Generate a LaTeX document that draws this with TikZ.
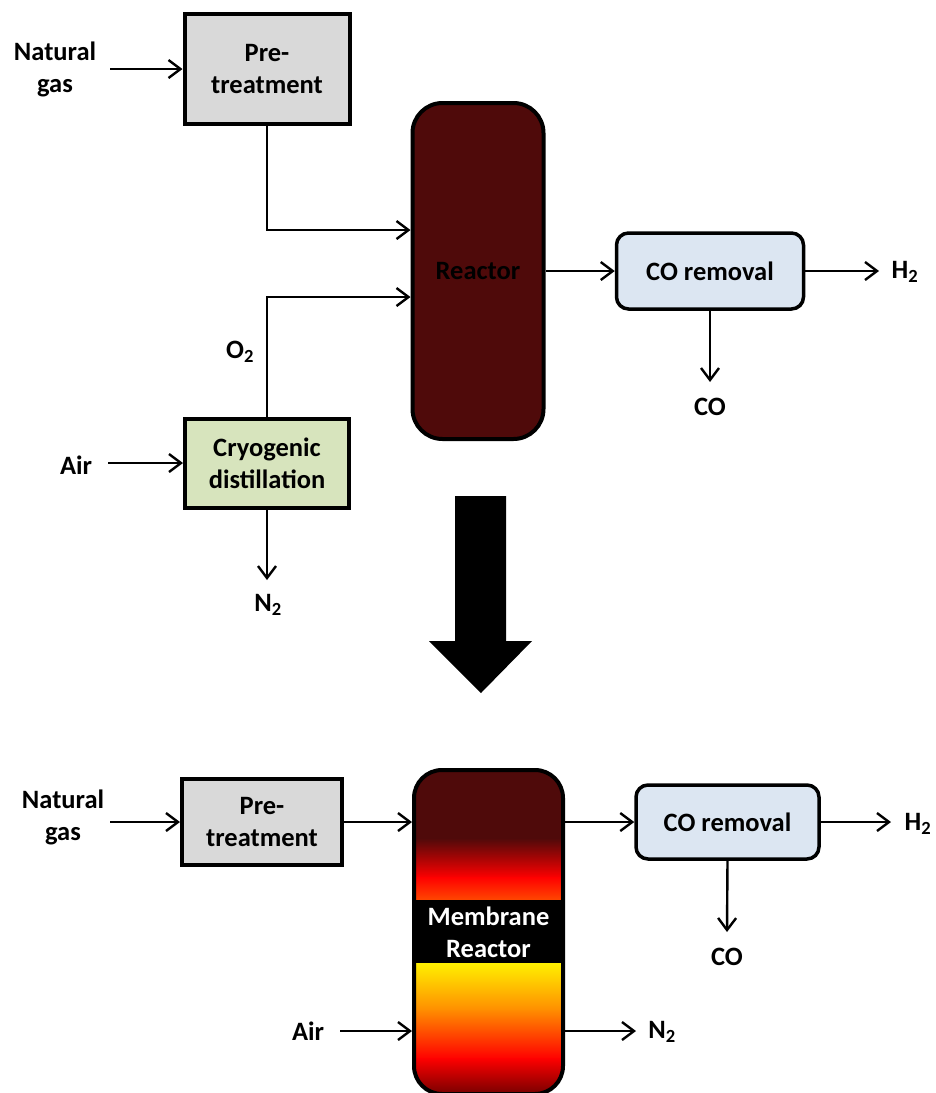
\documentclass[tikz,border=0pt]{standalone}
\usepackage{fontspec}
\setmainfont{Carlito}
\usetikzlibrary{arrows.meta}
\definecolor{pfink}{HTML}{000000}
\definecolor{pfgray}{HTML}{D9D9D9}
\definecolor{pfgreen}{HTML}{D7E4BD}
\definecolor{pfblue}{HTML}{DCE6F2}
\definecolor{pfmaroon}{HTML}{4F0A0A}
\definecolor{pfred}{HTML}{FF0000}
\definecolor{pfhot}{HTML}{FF4A00}
\definecolor{pfyellow}{HTML}{FFF000}
\definecolor{pforange}{HTML}{FF8C00}
\definecolor{pfdeep}{HTML}{780000}

\begin{document}
\begin{tikzpicture}[x=1pt, y=-1pt, font=\fontsize{26.5}{32}\selectfont\bfseries, text=pfink,
    unit/.style={draw=pfink, line width=4pt, inner sep=0pt, align=center},
    label/.style={inner sep=0pt, align=center},
    flow/.style={draw=pfink, line width=2.4pt, -{Straight Barb[length=12pt, width=18pt, line width=2.4pt]}},
  ]
  \useasboundingbox (0, 0) rectangle (936, 1093);

  % conventional route
  \node[unit, fill=pfgray, minimum width=165, minimum height=110] (pre1) at (267, 69) {Pre-\\treatment};
  \node[unit, fill=pfmaroon, rounded corners=30pt, minimum width=131, minimum height=336] (reac) at (478, 271) {Reactor};
  \node[unit, fill=pfblue, rounded corners=12pt, line width=3.5pt, minimum width=187, minimum height=76] (cor1) at (710, 271) {CO removal};
  \node[unit, fill=pfgreen, minimum width=164, minimum height=89] (cryo) at (267, 463) {Cryogenic\\distillation};

  \node[label] (ng1) at (55, 69) {Natural\\gas};
  \node[label] (air1) at (76, 465) {Air};
  \node[label] (o2) at (240, 352) {O\textsubscript{2}};
  \node[label] (n21) at (268, 605) {N\textsubscript{2}};
  \node[label] (h21) at (905, 272) {H\textsubscript{2}};
  \node[label] (co1) at (710, 407) {CO};

  \coordinate (ng1out) at (110, 69);
  \coordinate (air1out) at (108, 463);
  \coordinate (n21in) at (267, 580);
  \coordinate (h21in) at (879, 271);
  \coordinate (co1in) at (710, 382);

  \draw[flow] (ng1out) -- (pre1);
  \draw[flow] (air1out) -- (cryo);
  \draw[flow] (pre1.south) |- ([yshift=41pt]reac.west);
  \draw[flow] (cryo.north) |- ([yshift=-26pt]reac.west);
  \draw[flow] (cryo.south) -- (n21in);
  \draw[flow] (reac.east) -- (cor1.west);
  \draw[flow] (cor1.east) -- (h21in);
  \draw[flow] (cor1.south) -- (co1in);

  % big arrow between the two routes
  \fill[pfink] (455, 496) -- (506, 496) -- (506, 641) -- (532, 641) -- (481, 693)
    -- (429, 641) -- (455, 641) -- cycle;

  % membrane route: colour bands of the reactor, clipped to its outline
  \begin{scope}
    \clip[rounded corners=28pt] (414, 770) rectangle (563, 1094);
    \fill[pfmaroon] (414, 770) rectangle (563, 839);
    \shade[top color=pfmaroon, bottom color=pfred] (414, 838) rectangle (563, 878);
    \shade[top color=pfred, bottom color=pfhot] (414, 877) rectangle (563, 901);
    \fill[pfink] (414, 900) rectangle (563, 963);
    \shade[top color=pfyellow, bottom color=pforange] (414, 963) rectangle (563, 1011);
    \shade[top color=pforange, bottom color=pfred] (414, 1010) rectangle (563, 1059);
    \shade[top color=pfred, bottom color=pfdeep] (414, 1058) rectangle (563, 1094);
  \end{scope}

  \node[unit, fill=pfgray, minimum width=160, minimum height=86] (pre2) at (262, 822) {Pre-\\treatment};
  \node[unit, rounded corners=28pt, minimum width=149, minimum height=324] (memb) at (488.5, 932) {};
  \node[label, text=white] (membtxt) at (488.5, 932) {Membrane\\Reactor};
  \node[unit, fill=pfblue, rounded corners=12pt, line width=3.5pt, minimum width=183, minimum height=74] (cor2) at (727.5, 822) {CO removal};

  \node[label] (ng2) at (63, 817) {Natural\\gas};
  \node[label] (air2) at (308, 1031) {Air};
  \node[label] (n22) at (662, 1032) {N\textsubscript{2}};
  \node[label] (h22) at (918, 824) {H\textsubscript{2}};
  \node[label] (co2) at (727, 957) {CO};

  \coordinate (ng2out) at (110, 822);
  \coordinate (air2out) at (340, 1031);
  \coordinate (n22in) at (636, 1031);
  \coordinate (h22in) at (891, 822);
  \coordinate (co2in) at (727, 932);

  \draw[flow] (ng2out) -- (pre2);
  \draw[flow] (pre2.east) -- ([yshift=110pt]memb.west);
  \draw[flow] ([yshift=110pt]memb.east) -- (cor2.west);
  \draw[flow] (cor2.east) -- (h22in);
  \draw[flow] (cor2.south) -- (co2in);
  \draw[flow] (air2out) -- ([yshift=-99pt]memb.west);
  \draw[flow] ([yshift=-99pt]memb.east) -- (n22in);
\end{tikzpicture}
\end{document}
